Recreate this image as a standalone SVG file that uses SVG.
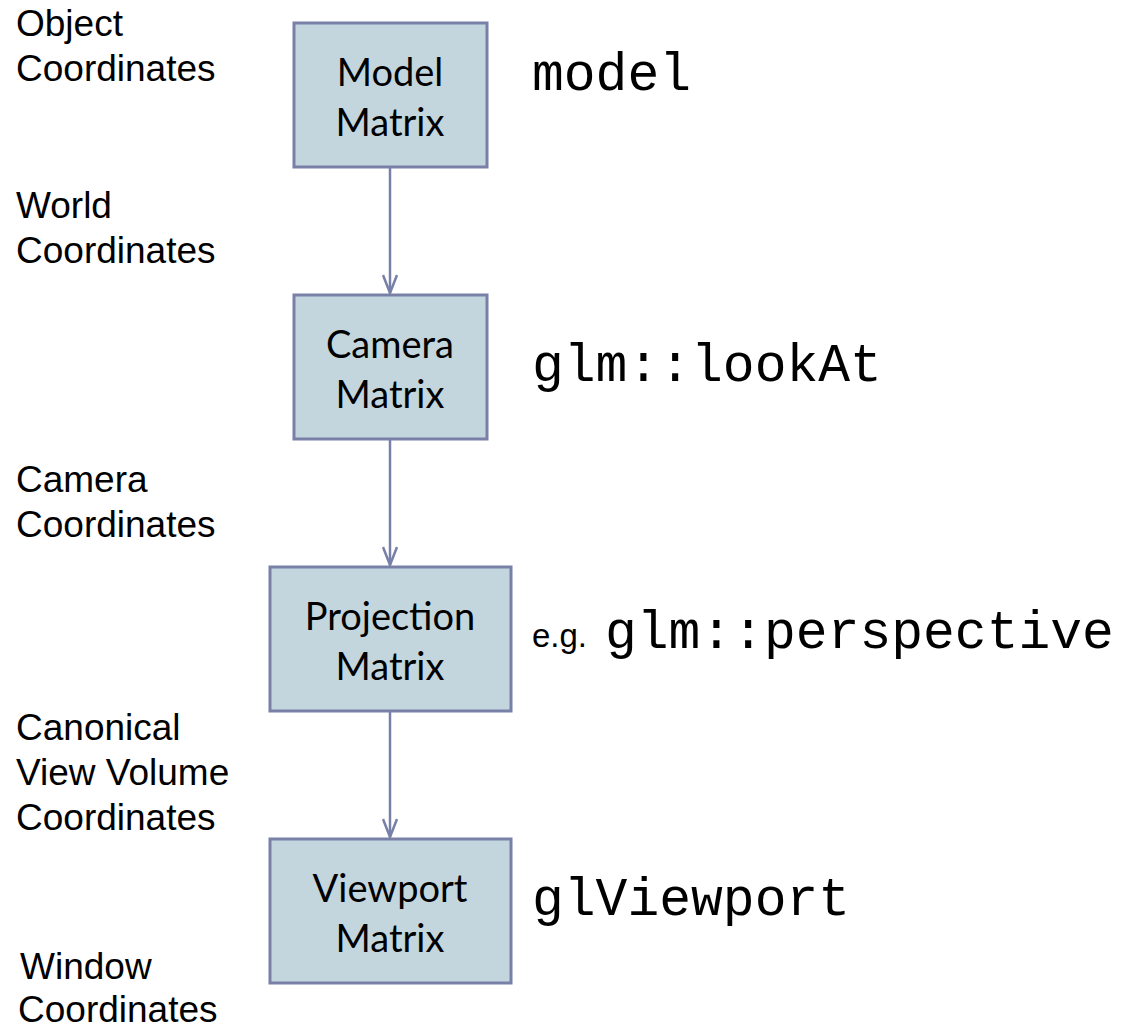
<svg xmlns="http://www.w3.org/2000/svg" width="1132" height="1028" viewBox="0 0 1132 1028">
<style>
.box{fill:#c3d6de;stroke:#7880a8;stroke-width:3}
.bt{font-family:Lato,"Open Sans",sans-serif;font-size:38px;fill:#000;text-anchor:middle}
.lt{font-family:"Liberation Sans",Arial,sans-serif;font-size:37px;fill:#000}
.mono{font-family:"Liberation Mono","Courier New",monospace;font-size:53px;fill:#000}
.eg{font-family:"Liberation Sans",Arial,sans-serif;font-size:33px;fill:#000}
.conn{stroke:#7880a8;stroke-width:2.5;fill:none}
</style>
<defs>
<marker id="ah" viewBox="0 0 20 16" refX="19" refY="8" markerWidth="20" markerHeight="16" markerUnits="userSpaceOnUse" orient="auto">
<path d="M1,1 L19,8 L1,15" fill="none" stroke="#7880a8" stroke-width="2.5"/>
</marker>
</defs>
<rect width="1132" height="1028" fill="#fff"/>
<g id="connectors">
<line class="conn" x1="390" y1="168" x2="390" y2="293" marker-end="url(#ah)"/>
<line class="conn" x1="390" y1="440" x2="390" y2="565" marker-end="url(#ah)"/>
<line class="conn" x1="390" y1="712" x2="390" y2="837" marker-end="url(#ah)"/>
</g>
<g id="model">
<rect class="box" x="294" y="23" width="193" height="144"/>
<text class="bt" x="390" y="86">Model</text>
<text class="bt" x="390" y="136">Matrix</text>
</g>
<g id="camera">
<rect class="box" x="294" y="295" width="193" height="144"/>
<text class="bt" x="390" y="358">Camera</text>
<text class="bt" x="390" y="408">Matrix</text>
</g>
<g id="projection">
<rect class="box" x="270" y="567" width="241" height="144"/>
<text class="bt" x="390" y="630">Projection</text>
<text class="bt" x="390" y="680">Matrix</text>
</g>
<g id="viewport">
<rect class="box" x="270" y="839" width="241" height="144"/>
<text class="bt" x="390" y="902">Viewport</text>
<text class="bt" x="390" y="952">Matrix</text>
</g>
<g id="labels-left">
<text class="lt" x="16" y="36">Object</text>
<text class="lt" x="16" y="81">Coordinates</text>
<text class="lt" x="16" y="218">World</text>
<text class="lt" x="16" y="263">Coordinates</text>
<text class="lt" x="16" y="492">Camera</text>
<text class="lt" x="16" y="537">Coordinates</text>
<text class="lt" x="16" y="740">Canonical</text>
<text class="lt" x="16" y="785">View Volume</text>
<text class="lt" x="16" y="830">Coordinates</text>
<text class="lt" x="20" y="979">Window</text>
<text class="lt" x="18" y="1022">Coordinates</text>
</g>
<g id="labels-right">
<text class="mono" x="532" y="90">model</text>
<text class="mono" x="532" y="381">glm::lookAt</text>
<text class="eg" x="532" y="647">e.g.</text>
<text class="mono" x="605" y="648">glm::perspective</text>
<text class="mono" x="532" y="915">glViewport</text>
</g>
</svg>
